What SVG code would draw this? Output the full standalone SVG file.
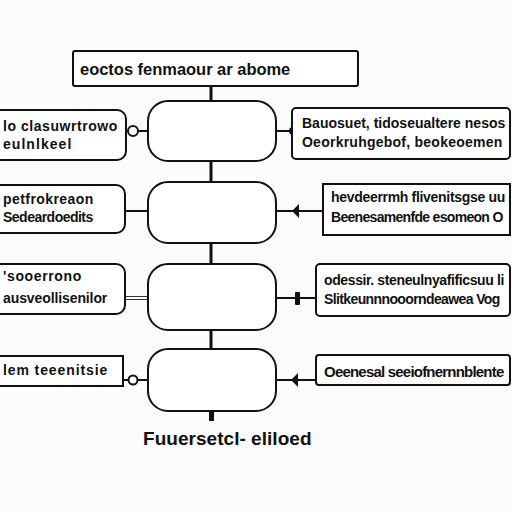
<svg xmlns="http://www.w3.org/2000/svg" width="512" height="512" viewBox="0 0 512 512">
<style>
.bg{fill:#fbfbfb}
.box{fill:#fff;stroke:#111;stroke-width:2}
.ln{stroke:#111;stroke-width:2;fill:none}
.sp{stroke:#111;stroke-width:3;fill:none}
.t{font-family:"Liberation Sans",Arial,sans-serif;font-size:14px;fill:#111;font-weight:bold;letter-spacing:-0.3px}
.big{font-size:16.5px}
.mid{font-size:15px}
.foot{font-size:19px;letter-spacing:-0.5px}
</style>
<rect class="bg" x="0" y="0" width="512" height="512"/>
<g id="connectors">
<line class="sp" x1="211" y1="86" x2="211" y2="101"/>
<line class="sp" x1="211" y1="161" x2="211" y2="182"/>
<line class="sp" x1="211" y1="243" x2="211" y2="264"/>
<line class="sp" x1="211" y1="330" x2="211" y2="349"/>
<rect x="209" y="407" width="5" height="14" fill="#111"/>
<line class="ln" x1="126" y1="131" x2="148" y2="131"/>
<circle cx="133" cy="131" r="5" fill="#fff" stroke="#111" stroke-width="2"/>
<line class="ln" x1="276" y1="131" x2="292" y2="131"/>
<circle cx="293" cy="131" r="4" fill="#111"/>
<line class="ln" x1="125" y1="211" x2="148" y2="211"/>
<line class="ln" x1="276" y1="211" x2="323" y2="211"/>
<path d="M292 211 L299 204 L299 218 Z" fill="#111"/>
<line x1="125" y1="296.5" x2="148" y2="296.5" stroke="#333" stroke-width="1"/>
<line x1="125" y1="299.5" x2="148" y2="299.5" stroke="#333" stroke-width="1"/>
<line class="ln" x1="276" y1="298" x2="316" y2="298"/>
<rect x="295" y="292" width="5" height="13" rx="1" fill="#111"/>
<line class="ln" x1="124" y1="380" x2="148" y2="380"/>
<circle cx="133" cy="380" r="4.5" fill="#fff" stroke="#111" stroke-width="2"/>
<line class="ln" x1="276" y1="380" x2="316" y2="380"/>
<path d="M291 380 L298 373 L298 387 Z" fill="#111"/>
</g>
<g id="title">
<rect class="box" x="73" y="51" width="285" height="35" rx="2"/>
<text class="t big" x="80" y="75" textLength="210">eoctos fenmaour ar abome</text>
</g>
<g id="center1"><rect class="box" x="148" y="101" width="128" height="60" rx="20"/></g>
<g id="center2"><rect class="box" x="148" y="182" width="128" height="61" rx="20"/></g>
<g id="center3"><rect class="box" x="148" y="264" width="128" height="66" rx="20"/></g>
<g id="center4"><rect class="box" x="148" y="349" width="128" height="62" rx="20"/></g>
<g id="left1">
<rect class="box" x="-10" y="110" width="136" height="50" rx="9"/>
<text class="t" x="3" y="131" textLength="114">lo clasuwrtrowo</text>
<text class="t" x="3" y="149" textLength="68">eulnlkeel</text>
</g>
<g id="left2">
<rect class="box" x="-10" y="185" width="135" height="48" rx="9"/>
<text class="t" x="3" y="204" textLength="90">petfrokreaon</text>
<text class="t" x="3" y="222" textLength="90">Sedeardoedits</text>
</g>
<g id="left3">
<rect class="box" x="-10" y="264" width="135" height="50" rx="9"/>
<text class="t" x="3" y="281" textLength="78">'sooerrono</text>
<text class="t" x="3" y="303" textLength="104">ausveollisenilor</text>
</g>
<g id="left4">
<rect class="box" x="-10" y="356" width="133" height="30"/>
<text class="t" x="3" y="375" textLength="104">lem teeenitsie</text>
</g>
<g id="right1">
<rect class="box" x="292" y="108" width="218" height="51" rx="4"/>
<text class="t" x="302" y="128" textLength="203">Bauosuet, tidoseualtere nesos</text>
<text class="t" x="302" y="147" textLength="200">Oeorkruhgebof, beokeoemen</text>
</g>
<g id="right2">
<rect class="box" x="323" y="184" width="187" height="51"/>
<text class="t" x="331" y="202" textLength="174">hevdeerrmh flivenitsgse uu</text>
<text class="t" x="331" y="222" textLength="172">Beenesamenfde esomeon O</text>
</g>
<g id="right3">
<rect class="box" x="316" y="264" width="194" height="52" rx="4"/>
<text class="t" x="324" y="285" textLength="180">odessir. steneulnyafificsuu li</text>
<text class="t" x="324" y="304" textLength="176">Slitkeunnnooorndeawea Vog</text>
</g>
<g id="right4">
<rect class="box" x="316" y="355" width="194" height="30" rx="3"/>
<text class="t mid" x="324" y="377" textLength="180">Oeenesal seeiofnernnblente</text>
</g>
<g id="footer">
<text class="t foot" x="143" y="445" textLength="168">Fuuersetcl- eliloed</text>
</g>
</svg>
